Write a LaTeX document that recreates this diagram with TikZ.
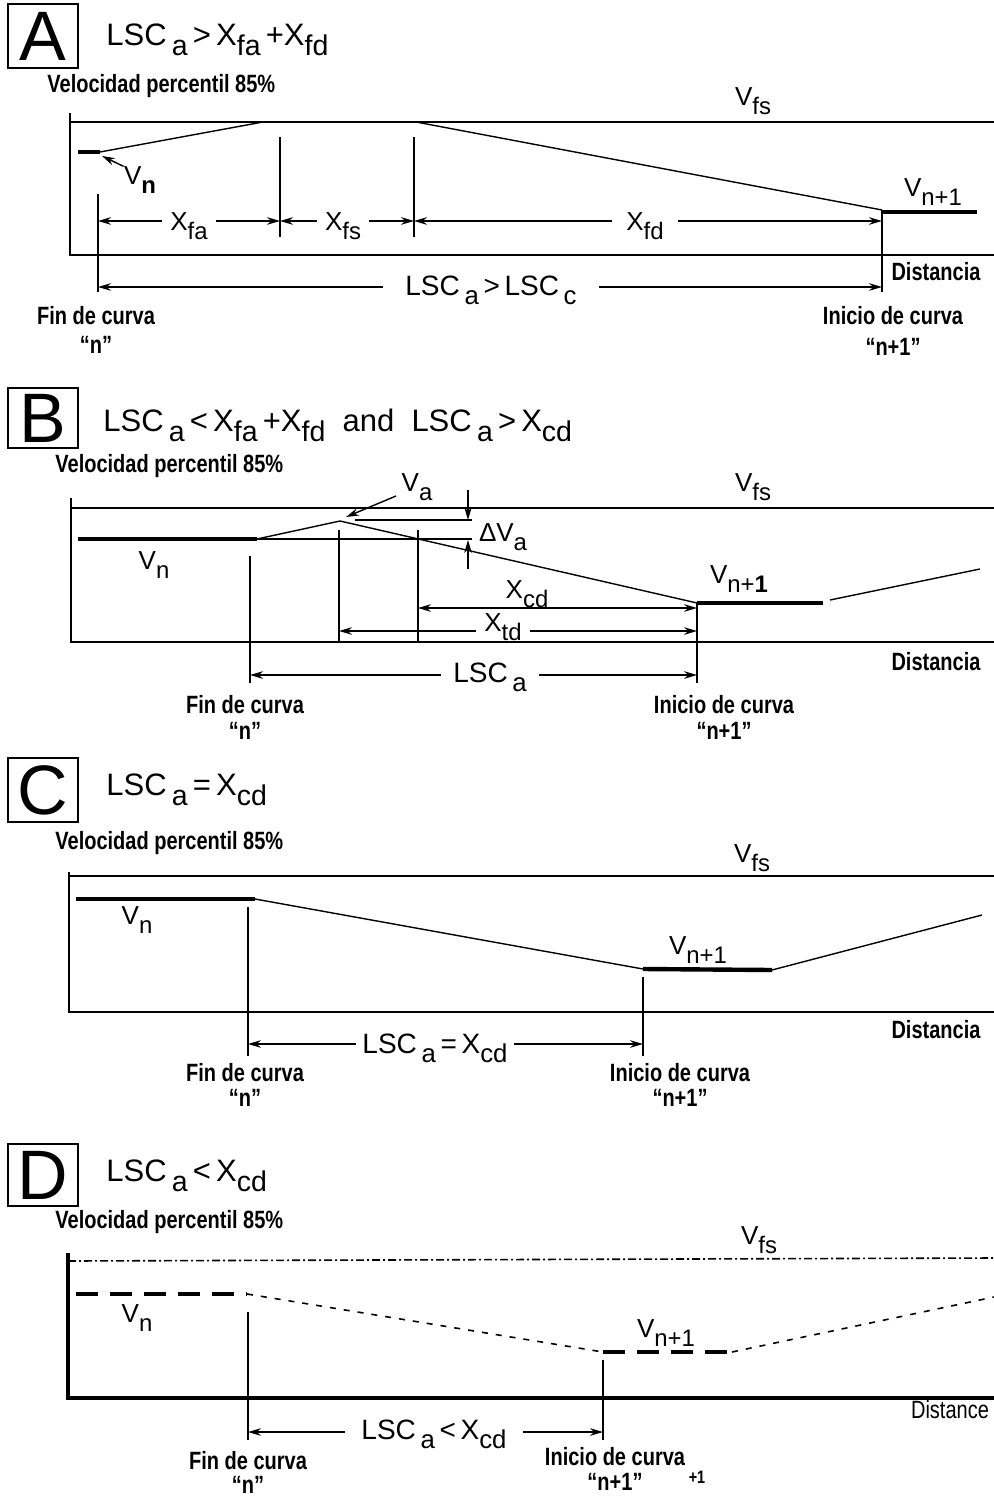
\documentclass[tikz,border=0pt]{standalone}
\usepackage{graphicx}
\usepackage{fontspec}
\setmainfont{Liberation Sans}
\newfontfamily\cond[FakeStretch=0.8]{Liberation Sans}
\usetikzlibrary{arrows.meta}
\newcommand\sbs[1]{\raisebox{-0.62ex}{\scalebox{0.92}{#1}}}
\tikzset{
 axis/.style={line width=1.4pt},
 axisD/.style={line width=2pt},
 vfsline/.style={line width=1pt},
 slope/.style={line width=0.7pt},
 thickseg/.style={line width=2.2pt},
 vert/.style={line width=0.9pt},
 dim/.style={line width=0.7pt,-{Stealth[length=6.5pt,width=3.8pt]}},
 dimboth/.style={line width=0.7pt,{Stealth[length=6.5pt,width=3.8pt]}-{Stealth[length=6.5pt,width=3.8pt]}},
 lab/.style={font=\cond\bfseries\fontsize{12.5}{14}\selectfont, inner sep=0pt, align=center},
 labr/.style={font=\cond\fontsize{12.5}{13}\selectfont, inner sep=0pt},
 sym/.style={font=\fontsize{13}{14}\selectfont, inner sep=0pt},
 dimlab/.style={font=\fontsize{13}{14}\selectfont, inner ysep=0pt, inner xsep=4pt},
 formula/.style={font=\fontsize{15.5}{16}\selectfont, inner sep=0pt, anchor=west},
 letterbox/.style={draw, line width=1.1pt, minimum width=35pt, minimum height=32pt, inner sep=0pt, font=\fontsize{35}{35}\selectfont},
 dashdot/.style={line width=0.8pt, dash pattern=on 4pt off 1.5pt on 1pt off 1.5pt},
 thickdash/.style={line width=2.2pt, dash pattern=on 11pt off 6pt},
 thindash/.style={line width=0.8pt, dash pattern=on 3pt off 4pt},
}
\begin{document}
\begin{tikzpicture}[x=0.5pt,y=-0.5pt]
\fill[white] (0,0) rectangle (994,1497);
\useasboundingbox (0,0) rectangle (994,1497);

%================ PANEL A ================
\node[letterbox] (boxA) at (43,36) {A};
\node[formula] (fA) at (106,40) {LSC\,\sbs{a}\,>\,X\sbs{fa}\,+X\sbs{fd}};
\node[lab,anchor=west] (velA) at (47,86) {Velocidad percentil 85\%};
\coordinate (A-yt) at (70,113);
\coordinate (A-o) at (70,255);
\coordinate (A-xr) at (994,255);
\coordinate (A-fl) at (70,122);
\coordinate (A-fr) at (994,122);
\draw[axis] (A-yt) -- (A-o) -- (A-xr);
\draw[vfsline] (A-fl) -- (A-fr);
\node[sym] (A-vfs) at (753,101) {V\sbs{fs}};
\coordinate (A-n1) at (78,152);
\coordinate (A-n2) at (100,152);
\coordinate (A-p1) at (263,122);
\coordinate (A-p2) at (416,122);
\coordinate (A-q) at (882,210);
\coordinate (A-m1) at (883,212);
\coordinate (A-m2) at (977,212);
\draw[thickseg] (A-n1) -- (A-n2);
\draw[slope] (A-n2) -- (A-p1);
\draw[slope] (A-p2) -- (A-q);
\draw[thickseg] (A-m1) -- (A-m2);
\node[sym] (A-vn) at (140,180) {V\sbs{\bfseries n}};
\coordinate (A-vnt) at (102,156);
\draw[dim] (A-vn.north west) -- (A-vnt);
\node[sym] (A-vn1) at (933,192) {V\sbs{n+1}};
\coordinate (A-a1) at (98,194); \coordinate (A-a2) at (98,292);
\coordinate (A-b1) at (280,137); \coordinate (A-b2) at (280,237);
\coordinate (A-c1) at (414,137); \coordinate (A-c2) at (414,237);
\coordinate (A-e1) at (882,210); \coordinate (A-e2) at (882,292);
\draw[vert] (A-a1) -- (A-a2);
\draw[vert] (A-b1) -- (A-b2);
\draw[vert] (A-c1) -- (A-c2);
\draw[vert] (A-e1) -- (A-e2);
\coordinate (A-d1) at (98,221);
\coordinate (A-d2) at (280,221);
\coordinate (A-d3) at (414,221);
\coordinate (A-d4) at (882,221);
\node[dimlab] (A-xfa) at (189,226) {X\sbs{fa}};
\draw[dim] (A-xfa.west |- A-d1) -- (A-d1);
\draw[dim] (A-xfa.east |- A-d1) -- (A-d2);
\node[dimlab] (A-xfs) at (343,226) {X\sbs{fs}};
\draw[dim] (A-xfs.west |- A-d1) -- (A-d2);
\draw[dim] (A-xfs.east |- A-d1) -- (A-d3);
\node[dimlab,inner xsep=7pt] (A-xfd) at (645,226) {X\sbs{fd}};
\draw[dim] (A-xfd.west |- A-d1) -- (A-d3);
\draw[dim] (A-xfd.east |- A-d1) -- (A-d4);
\coordinate (A-l1) at (98,287);
\coordinate (A-l2) at (882,287);
\node[dimlab,inner xsep=11pt,font=\fontsize{14}{15}\selectfont] (A-lsc) at (491,290) {LSC\,\sbs{a}\,>\,LSC\,\sbs{c}};
\draw[dim] (A-lsc.west |- A-l1) -- (A-l1);
\draw[dim] (A-lsc.east |- A-l1) -- (A-l2);
\node[lab] (A-dist) at (936,272) {Distancia};
\node[lab] (A-fin) at (96,316) {Fin de curva};
\node[lab] (A-fin2) at (96,345) {“n”};
\node[lab] (A-ini) at (893,316) {Inicio de curva};
\node[lab] (A-ini2) at (893,347) {“n+1”};

%================ PANEL B ================
\node[letterbox,minimum height=30pt] (boxB) at (43,418) {B};
\node[formula] (fB) at (103,425) {LSC\,\sbs{a}\,<\,X\sbs{fa}\,+X\sbs{fd}\ \ and\ \ LSC\,\sbs{a}\,>\,X\sbs{cd}};
\node[lab,anchor=west] (velB) at (55,466) {Velocidad percentil 85\%};
\coordinate (B-yt) at (71,498);
\coordinate (B-o) at (71,642);
\coordinate (B-xr) at (994,642);
\coordinate (B-fl) at (71,508);
\coordinate (B-fr) at (994,508);
\draw[axis] (B-yt) -- (B-o) -- (B-xr);
\draw[vfsline] (B-fl) -- (B-fr);
\node[sym] (B-vfs) at (753,487) {V\sbs{fs}};
\coordinate (B-n1) at (78,539);
\coordinate (B-n2) at (257,539);
\coordinate (B-n3) at (472,539);
\coordinate (B-pk) at (340,521);
\coordinate (B-q) at (697,603);
\coordinate (B-m2) at (823,603);
\coordinate (B-r1) at (830,600);
\coordinate (B-r2) at (980,569);
\draw[thickseg] (B-n1) -- (B-n2);
\draw[slope] (B-n2) -- (B-n3);
\draw[slope] (B-n2) -- (B-pk) -- (B-q);
\draw[thickseg] (B-q) -- (B-m2);
\draw[slope] (B-r1) -- (B-r2);
\coordinate (B-u1) at (355,520);
\coordinate (B-u2) at (472,520);
\draw[slope] (B-u1) -- (B-u2);
\coordinate (B-dvt) at (468,490);
\coordinate (B-dvtt) at (468,520);
\coordinate (B-dvb) at (468,569);
\coordinate (B-dvbt) at (468,540);
\draw[dim] (B-dvt) -- (B-dvtt);
\draw[dim] (B-dvb) -- (B-dvbt);
\node[sym] (B-dva) at (503,537) {ΔV\sbs{a}};
\node[sym] (B-va) at (417,487) {V\sbs{a}};
\coordinate (B-vat) at (346,517);
\coordinate (B-vas) at (396,496);
\draw[dim] (B-vas) -- (B-vat);
\node[sym] (B-vn) at (154,565) {V\sbs{n}};
\node[sym] (B-vn1) at (739,579) {V\sbs{n+\textbf{1}}};
\coordinate (B-a1) at (250,556); \coordinate (B-a2) at (250,683);
\coordinate (B-b1) at (339,530); \coordinate (B-b2) at (339,642);
\coordinate (B-c1) at (418,530); \coordinate (B-c2) at (418,642);
\coordinate (B-e1) at (697,603); \coordinate (B-e2) at (697,683);
\draw[vert] (B-a1) -- (B-a2);
\draw[vert] (B-b1) -- (B-b2);
\draw[vert] (B-c1) -- (B-c2);
\draw[vert] (B-e1) -- (B-e2);
\coordinate (B-xc1) at (418,608);
\coordinate (B-xc2) at (697,608);
\draw[dimboth] (B-xc1) -- (B-xc2);
\node[sym] (B-xcd) at (527,594) {X\sbs{cd}};
\coordinate (B-xt1) at (339,631);
\coordinate (B-xt2) at (697,631);
\node[dimlab] (B-xtd) at (503,627) {X\sbs{td}};
\draw[dim] (B-xtd.west |- B-xt1) -- (B-xt1);
\draw[dim] (B-xtd.east |- B-xt1) -- (B-xt2);
\coordinate (B-l1) at (250,675);
\coordinate (B-l2) at (697,675);
\node[dimlab,font=\fontsize{14}{15}\selectfont,inner xsep=6pt] (B-lsc) at (490,677) {LSC\,\sbs{a}};
\draw[dim] (B-lsc.west |- B-l1) -- (B-l1);
\draw[dim] (B-lsc.east |- B-l1) -- (B-l2);
\node[lab] (B-dist) at (936,662) {Distancia};
\node[lab] (B-fin) at (245,705) {Fin de curva};
\node[lab] (B-fin2) at (245,731) {“n”};
\node[lab] (B-ini) at (724,705) {Inicio de curva};
\node[lab] (B-ini2) at (724,731) {“n+1”};

%================ PANEL C ================
\node[letterbox] (boxC) at (43,790) {C};
\node[formula] (fC) at (106,790) {LSC\,\sbs{a}\,=\,X\sbs{cd}};
\node[lab,anchor=west] (velC) at (55,843) {Velocidad percentil 85\%};
\coordinate (C-yt) at (69,872);
\coordinate (C-o) at (69,1012);
\coordinate (C-xr) at (994,1012);
\coordinate (C-fl) at (69,876);
\coordinate (C-fr) at (994,876);
\draw[axis] (C-yt) -- (C-o) -- (C-xr);
\draw[vfsline] (C-fl) -- (C-fr);
\node[sym] (C-vfs) at (752,858) {V\sbs{fs}};
\coordinate (C-n1) at (76,899);
\coordinate (C-n2) at (255,899);
\coordinate (C-q) at (643,969);
\coordinate (C-m2) at (772,970);
\coordinate (C-r2) at (982,915);
\draw[thickseg] (C-n1) -- (C-n2);
\draw[slope] (C-n2) -- (C-q);
\draw[thickseg] (C-q) -- (C-m2);
\draw[slope] (C-m2) -- (C-r2);
\node[sym] (C-vn) at (137,920) {V\sbs{n}};
\node[sym] (C-vn1) at (698,950) {V\sbs{n+1}};
\coordinate (C-a1) at (248,907); \coordinate (C-a2) at (248,1056);
\coordinate (C-e1) at (643,977); \coordinate (C-e2) at (643,1056);
\draw[vert] (C-a1) -- (C-a2);
\draw[vert] (C-e1) -- (C-e2);
\coordinate (C-l1) at (248,1044);
\coordinate (C-l2) at (643,1044);
\node[dimlab,font=\fontsize{14}{15}\selectfont,inner xsep=3pt] (C-lsc) at (435,1048) {LSC\,\sbs{a}\,=\,X\sbs{cd}};
\draw[dim] (C-lsc.west |- C-l1) -- (C-l1);
\draw[dim] (C-lsc.east |- C-l1) -- (C-l2);
\node[lab] (C-dist) at (936,1030) {Distancia};
\node[lab] (C-fin) at (245,1073) {Fin de curva};
\node[lab] (C-fin2) at (245,1098) {“n”};
\node[lab] (C-ini) at (680,1073) {Inicio de curva};
\node[lab] (C-ini2) at (680,1098) {“n+1”};

%================ PANEL D ================
\node[letterbox,minimum height=31pt] (boxD) at (43,1175) {D};
\node[formula] (fD) at (106,1176) {LSC\,\sbs{a}\,<\,X\sbs{cd}};
\node[lab,anchor=west] (velD) at (55,1222) {Velocidad percentil 85\%};
\coordinate (D-yt) at (68,1253);
\coordinate (D-o) at (68,1398);
\coordinate (D-xr) at (994,1398);
\coordinate (D-fl) at (68,1261);
\coordinate (D-fr) at (994,1258);
\draw[axisD] (D-yt) -- (D-o) -- (D-xr);
\draw[dashdot] (D-fl) -- (D-fr);
\node[sym] (D-vfs) at (759,1240) {V\sbs{fs}};
\coordinate (D-n1) at (76,1294);
\coordinate (D-n2) at (247,1294);
\coordinate (D-q) at (603,1352);
\coordinate (D-m2) at (732,1352);
\coordinate (D-r2) at (994,1297);
\draw[thickdash] (D-n1) -- (D-n2);
\draw[thindash] (D-n2) -- (D-q);
\draw[thickdash] (D-q) -- (D-m2);
\draw[thindash] (D-m2) -- (D-r2);
\node[sym] (D-vn) at (137,1318) {V\sbs{n}};
\node[sym] (D-vn1) at (666,1333) {V\sbs{n+1}};
\coordinate (D-a1) at (248,1312); \coordinate (D-a2) at (248,1440);
\coordinate (D-e1) at (603,1360); \coordinate (D-e2) at (603,1440);
\draw[vert] (D-a1) -- (D-a2);
\draw[vert] (D-e1) -- (D-e2);
\coordinate (D-l1) at (248,1432);
\coordinate (D-l2) at (603,1432);
\node[dimlab,font=\fontsize{14}{15}\selectfont,inner xsep=8pt] (D-lsc) at (434,1434) {LSC\,\sbs{a}\,<\,X\sbs{cd}};
\draw[dim] (D-lsc.west |- D-l1) -- (D-l1);
\draw[dim] (D-lsc.east |- D-l1) -- (D-l2);
\node[labr] (D-dist) at (950,1410) {Distance};
\node[lab] (D-fin) at (248,1461) {Fin de curva};
\node[lab] (D-fin2) at (248,1485) {“n”};
\node[lab] (D-ini) at (615,1457) {Inicio de curva};
\node[lab] (D-ini2) at (615,1482) {“n+1”};
\node[lab,font=\cond\bfseries\fontsize{9}{10}\selectfont] (D-stray) at (697,1477) {+1};
\end{tikzpicture}
\end{document}
